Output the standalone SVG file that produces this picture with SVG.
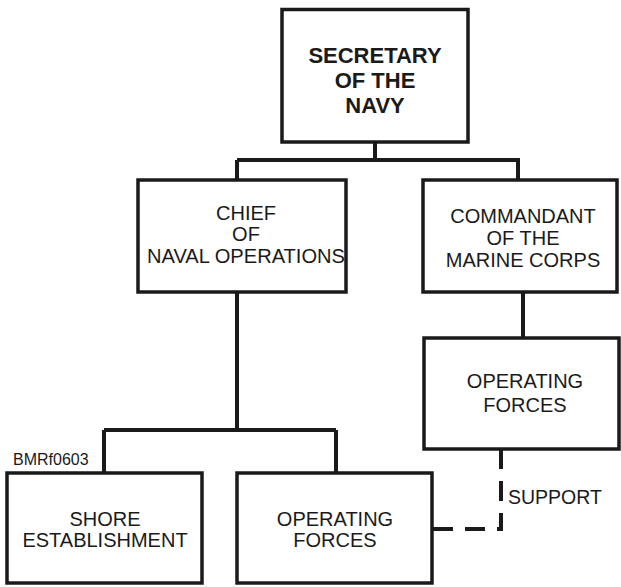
<svg xmlns="http://www.w3.org/2000/svg" width="621" height="587" viewBox="0 0 621 587">
<style>
.box{fill:#fff;stroke:#1a1a1a;stroke-width:3.5}
.ln{fill:none;stroke:#1a1a1a;stroke-width:4}
.dash{fill:none;stroke:#1a1a1a;stroke-width:4;stroke-dasharray:20 12}
text{font-family:"Liberation Sans",Arial,sans-serif;font-size:20px;fill:#1a1a1a;text-anchor:middle}
.b{font-weight:bold;font-size:22px}
.sm{font-size:16px;text-anchor:start}
.lbl{font-size:19.5px;text-anchor:start}
</style>
<rect width="621" height="587" fill="#fff"/>
<g id="connectors">
<path class="ln" d="M375,142 V160 M237,160 H520 M237,160 V180 M518,160 V180"/>
<path class="ln" d="M237,292 V430 M104,430 H336 M104,430 V473 M336,430 V473"/>
<path class="ln" d="M523,292 V338"/>
<path class="dash" d="M501,449 V529 H432"/>
<text class="lbl" x="508" y="504">SUPPORT</text>
</g>
<g id="secnav">
<rect class="box" x="282" y="9.5" width="186" height="132.5"/>
<text class="b" x="375" y="63">SECRETARY</text>
<text class="b" x="375" y="88">OF THE</text>
<text class="b" x="375" y="113">NAVY</text>
</g>
<g id="cno">
<rect class="box" x="138" y="180" width="208" height="112"/>
<text x="246" y="220">CHIEF</text>
<text x="246" y="241">OF</text>
<text x="246" y="263" textLength="198" lengthAdjust="spacingAndGlyphs">NAVAL OPERATIONS</text>
</g>
<g id="cmc">
<rect class="box" x="423" y="180" width="194" height="112"/>
<text x="523" y="223">COMMANDANT</text>
<text x="523" y="245">OF THE</text>
<text x="523" y="267">MARINE CORPS</text>
</g>
<g id="mc-operating-forces">
<rect class="box" x="424" y="338" width="195" height="111"/>
<text x="525" y="388">OPERATING</text>
<text x="525" y="412">FORCES</text>
</g>
<g id="shore">
<rect class="box" x="7" y="473" width="195" height="110"/>
<text x="105" y="526">SHORE</text>
<text x="105" y="547">ESTABLISHMENT</text>
<text class="sm" x="13" y="465">BMRf0603</text>
</g>
<g id="navy-operating-forces">
<rect class="box" x="237" y="473" width="195" height="110"/>
<text x="335" y="526">OPERATING</text>
<text x="335" y="547">FORCES</text>
</g>
</svg>
